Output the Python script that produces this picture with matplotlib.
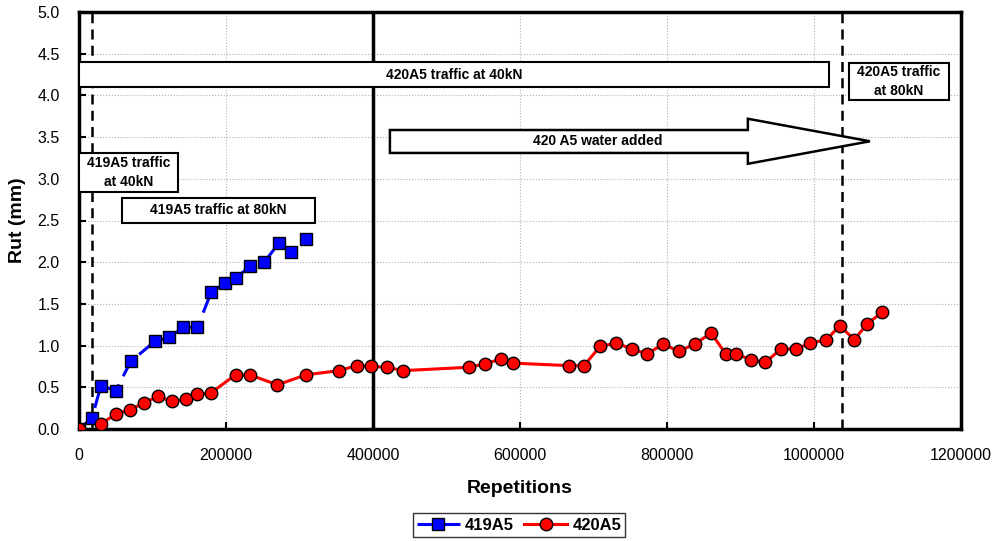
import matplotlib
matplotlib.use("Agg")
import matplotlib.pyplot as plt
from matplotlib.patches import Rectangle, Polygon

plt.rcParams['font.family'] = ['Liberation Sans', 'DejaVu Sans']

# ---- data ----
x_419 = [0, 17600, 29800, 50000, 70500, 103000, 123000, 142000, 161000, 180000,
         199000, 213000, 233000, 252000, 272000, 289000, 309000]
y_419 = [0.0, 0.13, 0.52, 0.46, 0.81, 1.05, 1.10, 1.22, 1.22, 1.64,
         1.75, 1.81, 1.95, 2.00, 2.23, 2.12, 2.28]

x_420 = [0, 17000, 29800, 50000, 69000, 88000, 107000, 127000, 146000, 160000, 179000,
         213000, 232000, 270000, 309000, 354000, 378000, 397000, 419000, 441000,
         530000, 552000, 574000, 590000, 666000, 687000, 709000, 731000, 752000,
         773000, 795000, 816000, 838000, 860000, 880000, 894000, 914000, 934000,
         955000, 976000, 995000, 1017000, 1035000, 1055000, 1072000, 1093000]
y_420 = [0.0, -0.15, 0.06, 0.18, 0.23, 0.31, 0.39, 0.33, 0.36, 0.42, 0.43,
         0.65, 0.65, 0.53, 0.65, 0.70, 0.76, 0.75, 0.74, 0.70,
         0.74, 0.78, 0.84, 0.79, 0.76, 0.76, 0.99, 1.03, 0.96,
         0.90, 1.02, 0.93, 1.02, 1.15, 0.90, 0.90, 0.83, 0.80,
         0.96, 0.96, 1.03, 1.07, 1.24, 1.07, 1.26, 1.40]

dashed_x = [17600, 1038000]
solid_x = 400000
x_ticks = [0, 200000, 400000, 600000, 800000, 1000000, 1200000]
y_ticks = [0.0, 0.5, 1.0, 1.5, 2.0, 2.5, 3.0, 3.5, 4.0, 4.5, 5.0]

fig = plt.figure(figsize=(9.97, 5.41), dpi=100)
W, H = 997, 541
ax = fig.add_axes([79 / W, 1 - 429 / H, (961 - 79) / W, (429 - 12) / H])

ax.set_xlim(0, 1200000)
ax.set_ylim(0, 5.0)
ax.set_xticks(x_ticks)
ax.set_yticks(y_ticks)
ax.set_xticklabels([str(v) for v in x_ticks])
ax.set_yticklabels([f"{v:.1f}" for v in y_ticks])
ax.tick_params(direction='in', length=5, width=1.5, labelsize=11.5, colors='black')
ax.tick_params(axis='x', pad=14)
ax.tick_params(axis='y', pad=14)
ax.grid(True, color='#b0b0b0', linestyle=':', linewidth=0.8)
ax.set_axisbelow(True)
for s in ax.spines.values():
    s.set_linewidth(2.5)

ax.set_xlabel('Repetitions', fontsize=14, fontweight='bold', labelpad=12)
ax.set_ylabel('Rut (mm)', fontsize=14, fontweight='bold', labelpad=8)

# vertical lines
for xv in dashed_x:
    ax.axvline(xv, color='black', linestyle=(0, (4, 2.5)), linewidth=1.8, zorder=2)
ax.axvline(solid_x, color='black', linewidth=2.5, zorder=2)

# series
ax.plot(x_419, y_419, color='#0000ff', linestyle=(0, (6, 3)), linewidth=2.2,
        marker='s', markersize=9, markerfacecolor='#0000ff', markeredgecolor='black',
        markeredgewidth=1.0, label='419A5', zorder=4)
ax.plot(x_420, y_420, color='#ff0000', linewidth=2.2,
        marker='o', markersize=9, markerfacecolor='#ff0000', markeredgecolor='black',
        markeredgewidth=1.0, label='420A5', zorder=4)

# text boxes
def box(x0, x1, y0, y1, text, tx=None):
    ax.add_patch(Rectangle((x0, y0), x1 - x0, y1 - y0, facecolor='white',
                           edgecolor='black', linewidth=1.5, zorder=5))
    if tx is None:
        tx = (x0 + x1) / 2
    ax.text(tx, (y0 + y1) / 2, text, ha='center', va='center', fontsize=10,
            fontweight='bold', zorder=6, linespacing=1.5)

box(0, 1020000, 4.10, 4.40, '420A5 traffic at 40kN', tx=511000)
box(1047600, 1183700, 3.94, 4.39, '420A5 traffic\nat 80kN')
box(0, 134700, 2.84, 3.31, '419A5 traffic\nat 40kN')
box(58500, 321000, 2.47, 2.77, '419A5 traffic at 80kN')

# arrow
arrow_pts = [(423000, 3.31), (910000, 3.31), (910000, 3.18), (1076000, 3.45),
             (910000, 3.72), (910000, 3.585), (423000, 3.585)]
ax.add_patch(Polygon(arrow_pts, closed=True, facecolor='white', edgecolor='black',
                     linewidth=1.8, zorder=5))
ax.text(706000, 3.45, '420 A5 water added', ha='center', va='center', fontsize=10,
        fontweight='bold', zorder=6)

leg = fig.legend(loc='center', bbox_to_anchor=(519 / W, 1 - 525 / H), ncol=2,
                 frameon=True, fancybox=False, edgecolor='black',
                 prop={'weight': 'bold', 'size': 12}, handlelength=2.6,
                 columnspacing=0.6, handletextpad=0.3, borderpad=0.25)
leg.get_frame().set_linewidth(1.0)

fig.savefig('out.png', dpi=100)
